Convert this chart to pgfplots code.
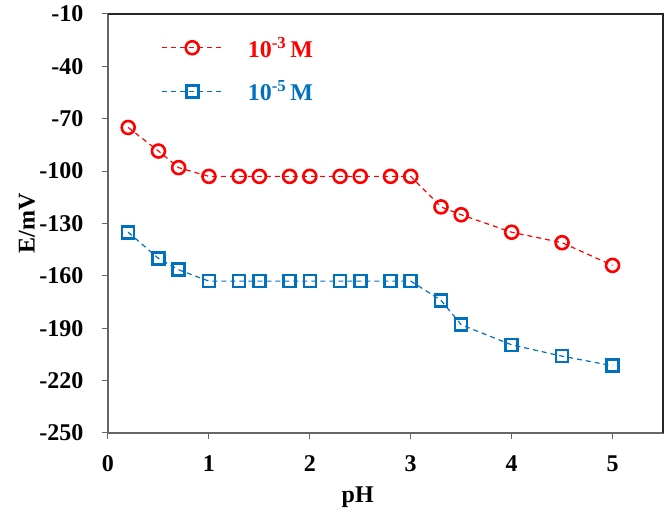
\documentclass[border=0pt]{standalone}
\usepackage{fontspec}
\setmainfont{Liberation Serif}
\usepackage{pgfplots}
\pgfplotsset{compat=1.18}
\definecolor{exred}{RGB}{255,0,0}
\definecolor{exblue}{RGB}{0,112,192}
\begin{document}
\begin{tikzpicture}
\begin{axis}[
  scale only axis,
  width=555pt, height=419pt,
  xmin=0, xmax=5.5, ymin=-250, ymax=-10,
  xtick={0,1,2,3,4,5},
  ytick={-250,-220,-190,-160,-130,-100,-70,-40,-10},
  tick align=outside,
  major tick length=6pt,
  xtick pos=bottom, ytick pos=left,
  axis line style={draw=gray!80!black, line width=1.2pt},
  tick style={draw=gray!80!black, line width=1pt},
  /pgf/number format/assume math mode=true,
  ticklabel style={font=\fontsize{24}{27}\selectfont\bfseries},
  xticklabel style={yshift=-13pt},
  yticklabel style={xshift=-15pt, /pgf/number format/.cd, fixed, 1000 sep={}},
  xlabel={pH}, ylabel={E/mV},
  label style={font=\fontsize{24}{27}\selectfont\bfseries},
  xlabel style={at={(axis description cs:0.45,-0.153)}, anchor=center},
  ylabel style={at={(axis description cs:-0.146,0.5)}, anchor=center, rotate=0},
  legend style={draw=none, fill=none, at={(axis cs:0.5,-41.8)}, anchor=west,
    font=\fontsize{24}{27}\selectfont\bfseries, row sep=18pt,
    cells={anchor=west}},
  legend image code/.code={\draw[mark repeat=2,mark phase=2,#1] plot coordinates {(0pt,0pt) (30pt,0pt) (60pt,0pt)};},
  legend cell align=left,
]
\addplot[exred, line width=1.2pt, dash pattern=on 5pt off 4pt,
  mark=o, mark size=6.5pt, mark options={solid, line width=2.6pt}]
coordinates {
(0.2,-75) (0.5,-88.5) (0.7,-98) (1.0,-103) (1.3,-103) (1.5,-103) (1.8,-103) (2.0,-103)
(2.3,-103) (2.5,-103) (2.8,-103) (3.0,-103) (3.3,-120.5) (3.5,-125) (4.0,-135) (4.5,-141) (5.0,-154)
};
\addlegendentry{\hspace{23pt}\textcolor{exred}{10\textsuperscript{-3}\,M}}
\addplot[exblue, line width=1.2pt, dash pattern=on 5pt off 4pt,
  mark=square, mark size=6pt, mark options={solid, line width=2.6pt}]
coordinates {
(0.2,-135) (0.5,-150) (0.7,-156.5) (1.0,-163) (1.3,-163) (1.5,-163) (1.8,-163) (2.0,-163)
(2.3,-163) (2.5,-163) (2.8,-163) (3.0,-163) (3.3,-174) (3.5,-188) (4.0,-199.5) (4.5,-206) (5.0,-211.5)
};
\addlegendentry{\hspace{23pt}\textcolor{exblue}{10\textsuperscript{-5}\,M}}
\end{axis}
\draw[black!85, line width=1.2pt] (current axis.north west) -- (current axis.north east) -- (current axis.south east);
\pgfresetboundingbox
\path[use as bounding box] ([shift={(-108pt,-87pt)}]current axis.south west) rectangle ([shift={(8pt,14pt)}]current axis.north east);
\end{tikzpicture}
\end{document}
